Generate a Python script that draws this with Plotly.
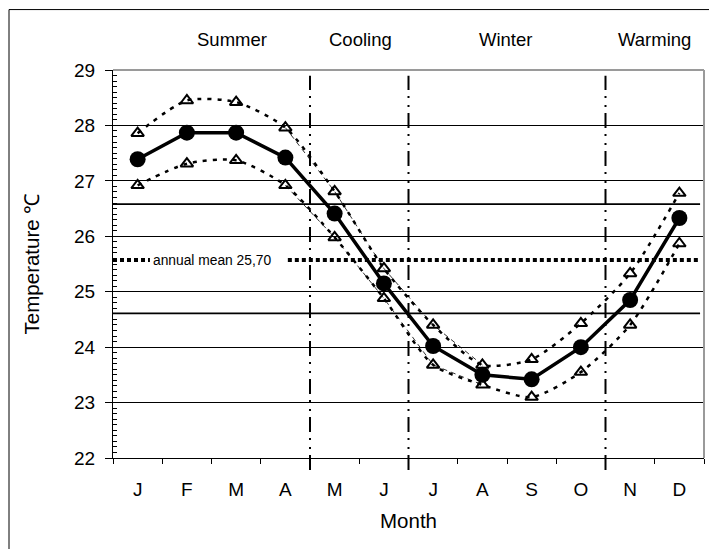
import plotly.graph_objects as go

# ---------------- data ----------------
months = ["J", "F", "M", "A", "M", "J", "J", "A", "S", "O", "N", "D"]
mean_temp = [27.39, 27.87, 27.87, 27.42, 26.41, 25.15, 24.02, 23.50, 23.42, 24.00, 24.85, 26.33]
upper_temp = [27.86, 28.45, 28.42, 27.96, 26.81, 25.42, 24.40, 23.68, 23.78, 24.43, 25.33, 26.78]
lower_temp = [26.92, 27.31, 27.37, 26.92, 25.98, 24.88, 23.68, 23.32, 23.10, 23.55, 24.40, 25.87]

seasons = ["Summer", "Cooling", "Winter", "Warming"]
season_label_x = [1.92, 4.52, 7.46, 10.5]
season_bounds = [3.5, 5.5, 9.5]

ref_high = 26.58
ref_low = 24.61
annual_mean_level = 25.57
annual_mean_label = "annual mean 25,70"

# thin smoothed envelope segment (Apr .. Aug)
thin_start, thin_end = 3, 8

XMIN, XMAX = -0.5, 11.5
YMIN, YMAX = 22, 29
x = list(range(len(months)))

FONT = "Arial, Liberation Sans, sans-serif"

fig = go.Figure()

# horizontal reference lines
for lvl in (ref_high, ref_low):
    fig.add_trace(go.Scatter(x=[XMIN, XMAX - 0.08], y=[lvl, lvl], mode="lines",
                             line=dict(color="black", width=1.6), hoverinfo="skip",
                             showlegend=False))

# annual mean dotted line (two pieces leaving room for label)
fig.add_trace(go.Scatter(x=[XMIN, 0.25], y=[annual_mean_level] * 2, mode="lines",
                         line=dict(color="black", width=4, dash="4px,3px"),
                         hoverinfo="skip", showlegend=False))
fig.add_trace(go.Scatter(x=[3.05, 11.38], y=[annual_mean_level] * 2, mode="lines",
                         line=dict(color="black", width=4, dash="4px,3px"),
                         hoverinfo="skip", showlegend=False))

# thin dashed envelopes
for series in (upper_temp, lower_temp):
    fig.add_trace(go.Scatter(x=x[thin_start:thin_end], y=series[thin_start:thin_end],
                             mode="lines", line=dict(color="black", width=0.8, dash="5px,4px"),
                             hoverinfo="skip", showlegend=False))

# upper / lower dotted lines with triangles
for series in (upper_temp, lower_temp):
    fig.add_trace(go.Scatter(x=x, y=series, mode="lines+markers",
                             line=dict(color="black", width=2.5, dash="4px,6px",
                                       shape="spline", smoothing=0.7),
                             marker=dict(symbol="triangle-up-open", size=11, color="black",
                                         line=dict(width=2, color="black")),
                             showlegend=False))

# main line
fig.add_trace(go.Scatter(x=x, y=mean_temp, mode="lines+markers",
                         line=dict(color="black", width=3.5),
                         marker=dict(symbol="circle", size=16, color="black"),
                         showlegend=False))

shapes = []
# vertical dash-dot season separators
for b in season_bounds:
    px = (b - XMIN) / (XMAX - XMIN)
    shapes.append(dict(type="line", xref="paper", yref="paper", x0=px, x1=px,
                       y0=-0.031, y1=0.985,
                       line=dict(color="black", width=2, dash="15px,6px,2px,7px,2px,6px")))
# plot frame top/right in grey
shapes.append(dict(type="line", xref="paper", yref="paper", x0=0, x1=1, y0=1, y1=1,
                   line=dict(color="#9a9a9a", width=2)))
shapes.append(dict(type="line", xref="paper", yref="paper", x0=1, x1=1, y0=0, y1=1,
                   line=dict(color="#9a9a9a", width=2)))
# outer chart frame
shapes.append(dict(type="rect", xref="paper", yref="paper",
                   x0=(9 - 113) / 591, x1=(711 - 113) / 591,
                   y0=(458 - 560) / 388.5, y1=(458 - 9) / 388.5,
                   line=dict(color="black", width=1), fillcolor="rgba(0,0,0,0)"))

annotations = []
for name, sx in zip(seasons, season_label_x):
    annotations.append(dict(x=sx, y=1.112, xref="x", yref="paper", text=name,
                            showarrow=False, font=dict(size=18.5, color="black", family=FONT)))
annotations.append(dict(x=0.28, y=annual_mean_level, xref="x", yref="y",
                        text=annual_mean_label, showarrow=False, xanchor="left",
                        font=dict(size=13.8, color="black", family=FONT)))

fig.update_layout(
    width=717, height=549,
    margin=dict(l=105, r=21, t=62, b=99, autoexpand=False),
    paper_bgcolor="white", plot_bgcolor="white",
    font=dict(family=FONT, color="black", size=18),
    shapes=shapes, annotations=annotations,
    showlegend=False,
)

fig.update_xaxes(
    range=[XMIN, XMAX], tickmode="array", tickvals=x, ticktext=months,
    ticks="", showgrid=False, zeroline=False,
    showline=True, linecolor="black", linewidth=1,
    minor=dict(ticks="outside", ticklen=5, tick0=-0.5, dtick=1, tickcolor="black",
               tickwidth=1, showgrid=False),
    ticklabelstandoff=14,
    tickfont=dict(size=19),
    title=dict(text="Month", font=dict(size=20.5), standoff=14),
)
fig.update_yaxes(
    range=[YMIN, YMAX], dtick=1, tick0=22,
    ticks="outside", ticklen=7, tickwidth=1, tickcolor="black",
    showgrid=True, gridcolor="black", gridwidth=1, zeroline=False,
    showline=True, linecolor="black", linewidth=1,
    minor=dict(ticks="inside", ticklen=4, dtick=0.1, tick0=22, tickcolor="black",
               tickwidth=1, showgrid=False),
    ticklabelstandoff=6,
    tickfont=dict(size=19),
    title=dict(text="Temperature ℃", font=dict(size=20.5), standoff=28),
)

fig.write_html("out.html")
